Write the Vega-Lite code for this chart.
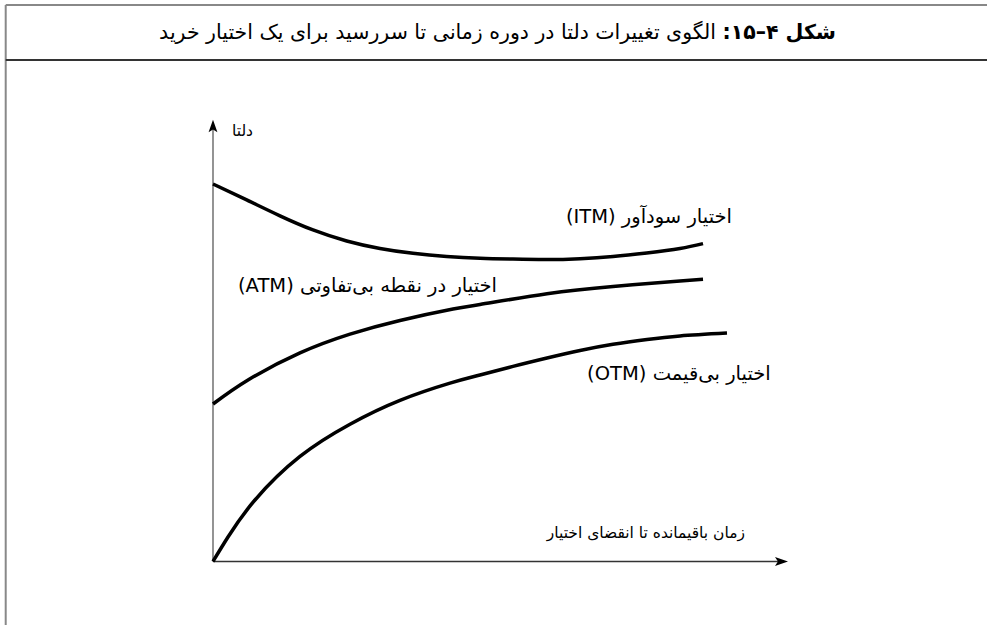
{
  "$schema": "https://vega.github.io/schema/vega-lite/v6.json",
  "width": 987,
  "height": 625,
  "padding": 0,
  "autosize": {"type": "none"},
  "background": "white",
  "config": {"view": {"stroke": null}},
  "datasets": {
    "frame": [
      {"t": -3.605, "t2": -3.605, "d": 1.2605, "d2": -0.1438},
      {"t": -3.605, "t2": 13.4609, "d": 1.2605, "d2": 1.2605}
    ],
    "separator": [
      {"t": -3.605, "t2": 13.4609, "d": 1.1359, "d2": 1.1359}
    ],
    "yaxis": [{"t": 0, "t2": 0, "d": 0, "d2": 0.985}],
    "xaxis": [{"t": 0, "t2": 9.85, "d": 0, "d2": 0}],
    "uparrow": [{"t": 0, "d": 0.9864}],
    "rightarrow": [{"t": 9.887, "d": 0}],
    "curves": [
      {"series": "ITM", "t": 0, "d": 0.855},
      {"series": "ITM", "t": 0.586, "d": 0.819},
      {"series": "ITM", "t": 1.165, "d": 0.783},
      {"series": "ITM", "t": 1.739, "d": 0.751},
      {"series": "ITM", "t": 2.325, "d": 0.726},
      {"series": "ITM", "t": 2.904, "d": 0.709},
      {"series": "ITM", "t": 3.478, "d": 0.698},
      {"series": "ITM", "t": 4.064, "d": 0.691},
      {"series": "ITM", "t": 4.643, "d": 0.687},
      {"series": "ITM", "t": 5.217, "d": 0.685},
      {"series": "ITM", "t": 5.803, "d": 0.684},
      {"series": "ITM", "t": 6.383, "d": 0.686},
      {"series": "ITM", "t": 6.957, "d": 0.691},
      {"series": "ITM", "t": 7.543, "d": 0.699},
      {"series": "ITM", "t": 8.122, "d": 0.709},
      {"series": "ITM", "t": 8.522, "d": 0.72},
      {"series": "ATM", "t": 0, "d": 0.3567},
      {"series": "ATM", "t": 0.609, "d": 0.4111},
      {"series": "ATM", "t": 1.513, "d": 0.4725},
      {"series": "ATM", "t": 2.383, "d": 0.5150},
      {"series": "ATM", "t": 3.252, "d": 0.5460},
      {"series": "ATM", "t": 4.174, "d": 0.5719},
      {"series": "ATM", "t": 4.643, "d": 0.5820},
      {"series": "ATM", "t": 5.809, "d": 0.6065},
      {"series": "ATM", "t": 6.957, "d": 0.6230},
      {"series": "ATM", "t": 8.122, "d": 0.6353},
      {"series": "ATM", "t": 8.522, "d": 0.6392},
      {"series": "OTM", "t": 0, "d": 0},
      {"series": "OTM", "t": 0.261, "d": 0.0555},
      {"series": "OTM", "t": 0.73, "d": 0.1393},
      {"series": "OTM", "t": 1.513, "d": 0.2380},
      {"series": "OTM", "t": 2.383, "d": 0.3110},
      {"series": "OTM", "t": 3.252, "d": 0.3650},
      {"series": "OTM", "t": 4.122, "d": 0.4040},
      {"series": "OTM", "t": 4.643, "d": 0.4224},
      {"series": "OTM", "t": 5.217, "d": 0.4420},
      {"series": "OTM", "t": 5.809, "d": 0.4610},
      {"series": "OTM", "t": 6.383, "d": 0.4780},
      {"series": "OTM", "t": 6.957, "d": 0.4920},
      {"series": "OTM", "t": 7.548, "d": 0.5030},
      {"series": "OTM", "t": 8.122, "d": 0.5110},
      {"series": "OTM", "t": 8.939, "d": 0.5175}
    ],
    "labels": [
      {"label": "\u202Bاختیار سودآور (ITM)\u202C", "t": 9.026, "d": 0.78},
      {"label": "\u202Bاختیار در نقطه بی\u200Cتفاوتی (ATM)\u202C", "t": 4.939, "d": 0.624},
      {"label": "\u202Bاختیار بی\u200Cقیمت (OTM)\u202C", "t": 9.7, "d": 0.4247}
    ],
    "axislabels": [
      {"label": "دلتا", "t": 0.696, "d": 0.975},
      {"label": "زمان باقیمانده تا انقضای اختیار", "t": 9.252, "d": 0.0646}
    ],
    "titlebold": [{"label": "شکل ۴–۱۵:\u200F", "t": 10.835, "d": 1.197}],
    "titlerest": [{"label": "الگوی تغییرات دلتا در دوره زمانی تا سررسید برای یک اختیار خرید", "t": 8.748, "d": 1.197}]
  },
  "layer": [
    {
      "data": {"name": "frame"},
      "mark": {"type": "rule", "color": "#888888", "strokeWidth": 2},
      "encoding": {
        "x": {"field": "t", "type": "quantitative", "scale": {"domain": [-3.7043, 13.4609], "nice": false, "zero": false}, "axis": null},
        "x2": {"field": "t2"},
        "y": {"field": "d", "type": "quantitative", "scale": {"domain": [-0.14383, 1.2718], "nice": false, "zero": false}, "axis": null},
        "y2": {"field": "d2"}
      }
    },
    {
      "data": {"name": "separator"},
      "mark": {"type": "rule", "color": "#333333", "strokeWidth": 2},
      "encoding": {
        "x": {"field": "t", "type": "quantitative"},
        "x2": {"field": "t2"},
        "y": {"field": "d", "type": "quantitative"},
        "y2": {"field": "d2"}
      }
    },
    {
      "data": {"name": "yaxis"},
      "mark": {"type": "rule", "color": "#707070", "strokeWidth": 1.5},
      "encoding": {
        "x": {"field": "t", "type": "quantitative"},
        "x2": {"field": "t2"},
        "y": {"field": "d", "type": "quantitative"},
        "y2": {"field": "d2"}
      }
    },
    {
      "data": {"name": "xaxis"},
      "mark": {"type": "rule", "color": "#333333", "strokeWidth": 1.5},
      "encoding": {
        "x": {"field": "t", "type": "quantitative"},
        "x2": {"field": "t2"},
        "y": {"field": "d", "type": "quantitative"},
        "y2": {"field": "d2"}
      }
    },
    {
      "data": {"name": "uparrow"},
      "mark": {"type": "point", "shape": "M0,-1L0.7,1L0,0.55L-0.7,1Z", "size": 160, "filled": true, "color": "black", "opacity": 1},
      "encoding": {
        "x": {"field": "t", "type": "quantitative"},
        "y": {"field": "d", "type": "quantitative"}
      }
    },
    {
      "data": {"name": "rightarrow"},
      "mark": {"type": "point", "shape": "M1,0L-1,0.7L-0.55,0L-1,-0.7Z", "size": 169, "filled": true, "color": "black", "opacity": 1},
      "encoding": {
        "x": {"field": "t", "type": "quantitative"},
        "y": {"field": "d", "type": "quantitative"}
      }
    },
    {
      "data": {"name": "curves"},
      "mark": {"type": "line", "color": "black", "strokeWidth": 3.5, "interpolate": "natural"},
      "encoding": {
        "x": {"field": "t", "type": "quantitative"},
        "y": {"field": "d", "type": "quantitative"},
        "detail": {"field": "series"}
      }
    },
    {
      "data": {"name": "labels"},
      "mark": {"type": "text", "align": "right", "baseline": "middle", "font": "DejaVu Sans", "fontSize": 19.5, "color": "black"},
      "encoding": {
        "x": {"field": "t", "type": "quantitative"},
        "y": {"field": "d", "type": "quantitative"},
        "text": {"field": "label"}
      }
    },
    {
      "data": {"name": "axislabels"},
      "mark": {"type": "text", "align": "right", "baseline": "middle", "font": "DejaVu Sans", "fontSize": 15.5, "color": "black"},
      "encoding": {
        "x": {"field": "t", "type": "quantitative"},
        "y": {"field": "d", "type": "quantitative"},
        "text": {"field": "label"}
      }
    },
    {
      "data": {"name": "titlebold"},
      "mark": {"type": "text", "align": "right", "baseline": "middle", "font": "DejaVu Sans", "fontSize": 20.5, "fontWeight": "bold", "color": "black"},
      "encoding": {
        "x": {"field": "t", "type": "quantitative"},
        "y": {"field": "d", "type": "quantitative"},
        "text": {"field": "label"}
      }
    },
    {
      "data": {"name": "titlerest"},
      "mark": {"type": "text", "align": "right", "baseline": "middle", "font": "DejaVu Sans", "fontSize": 20.5, "color": "black"},
      "encoding": {
        "x": {"field": "t", "type": "quantitative"},
        "y": {"field": "d", "type": "quantitative"},
        "text": {"field": "label"}
      }
    }
  ]
}
